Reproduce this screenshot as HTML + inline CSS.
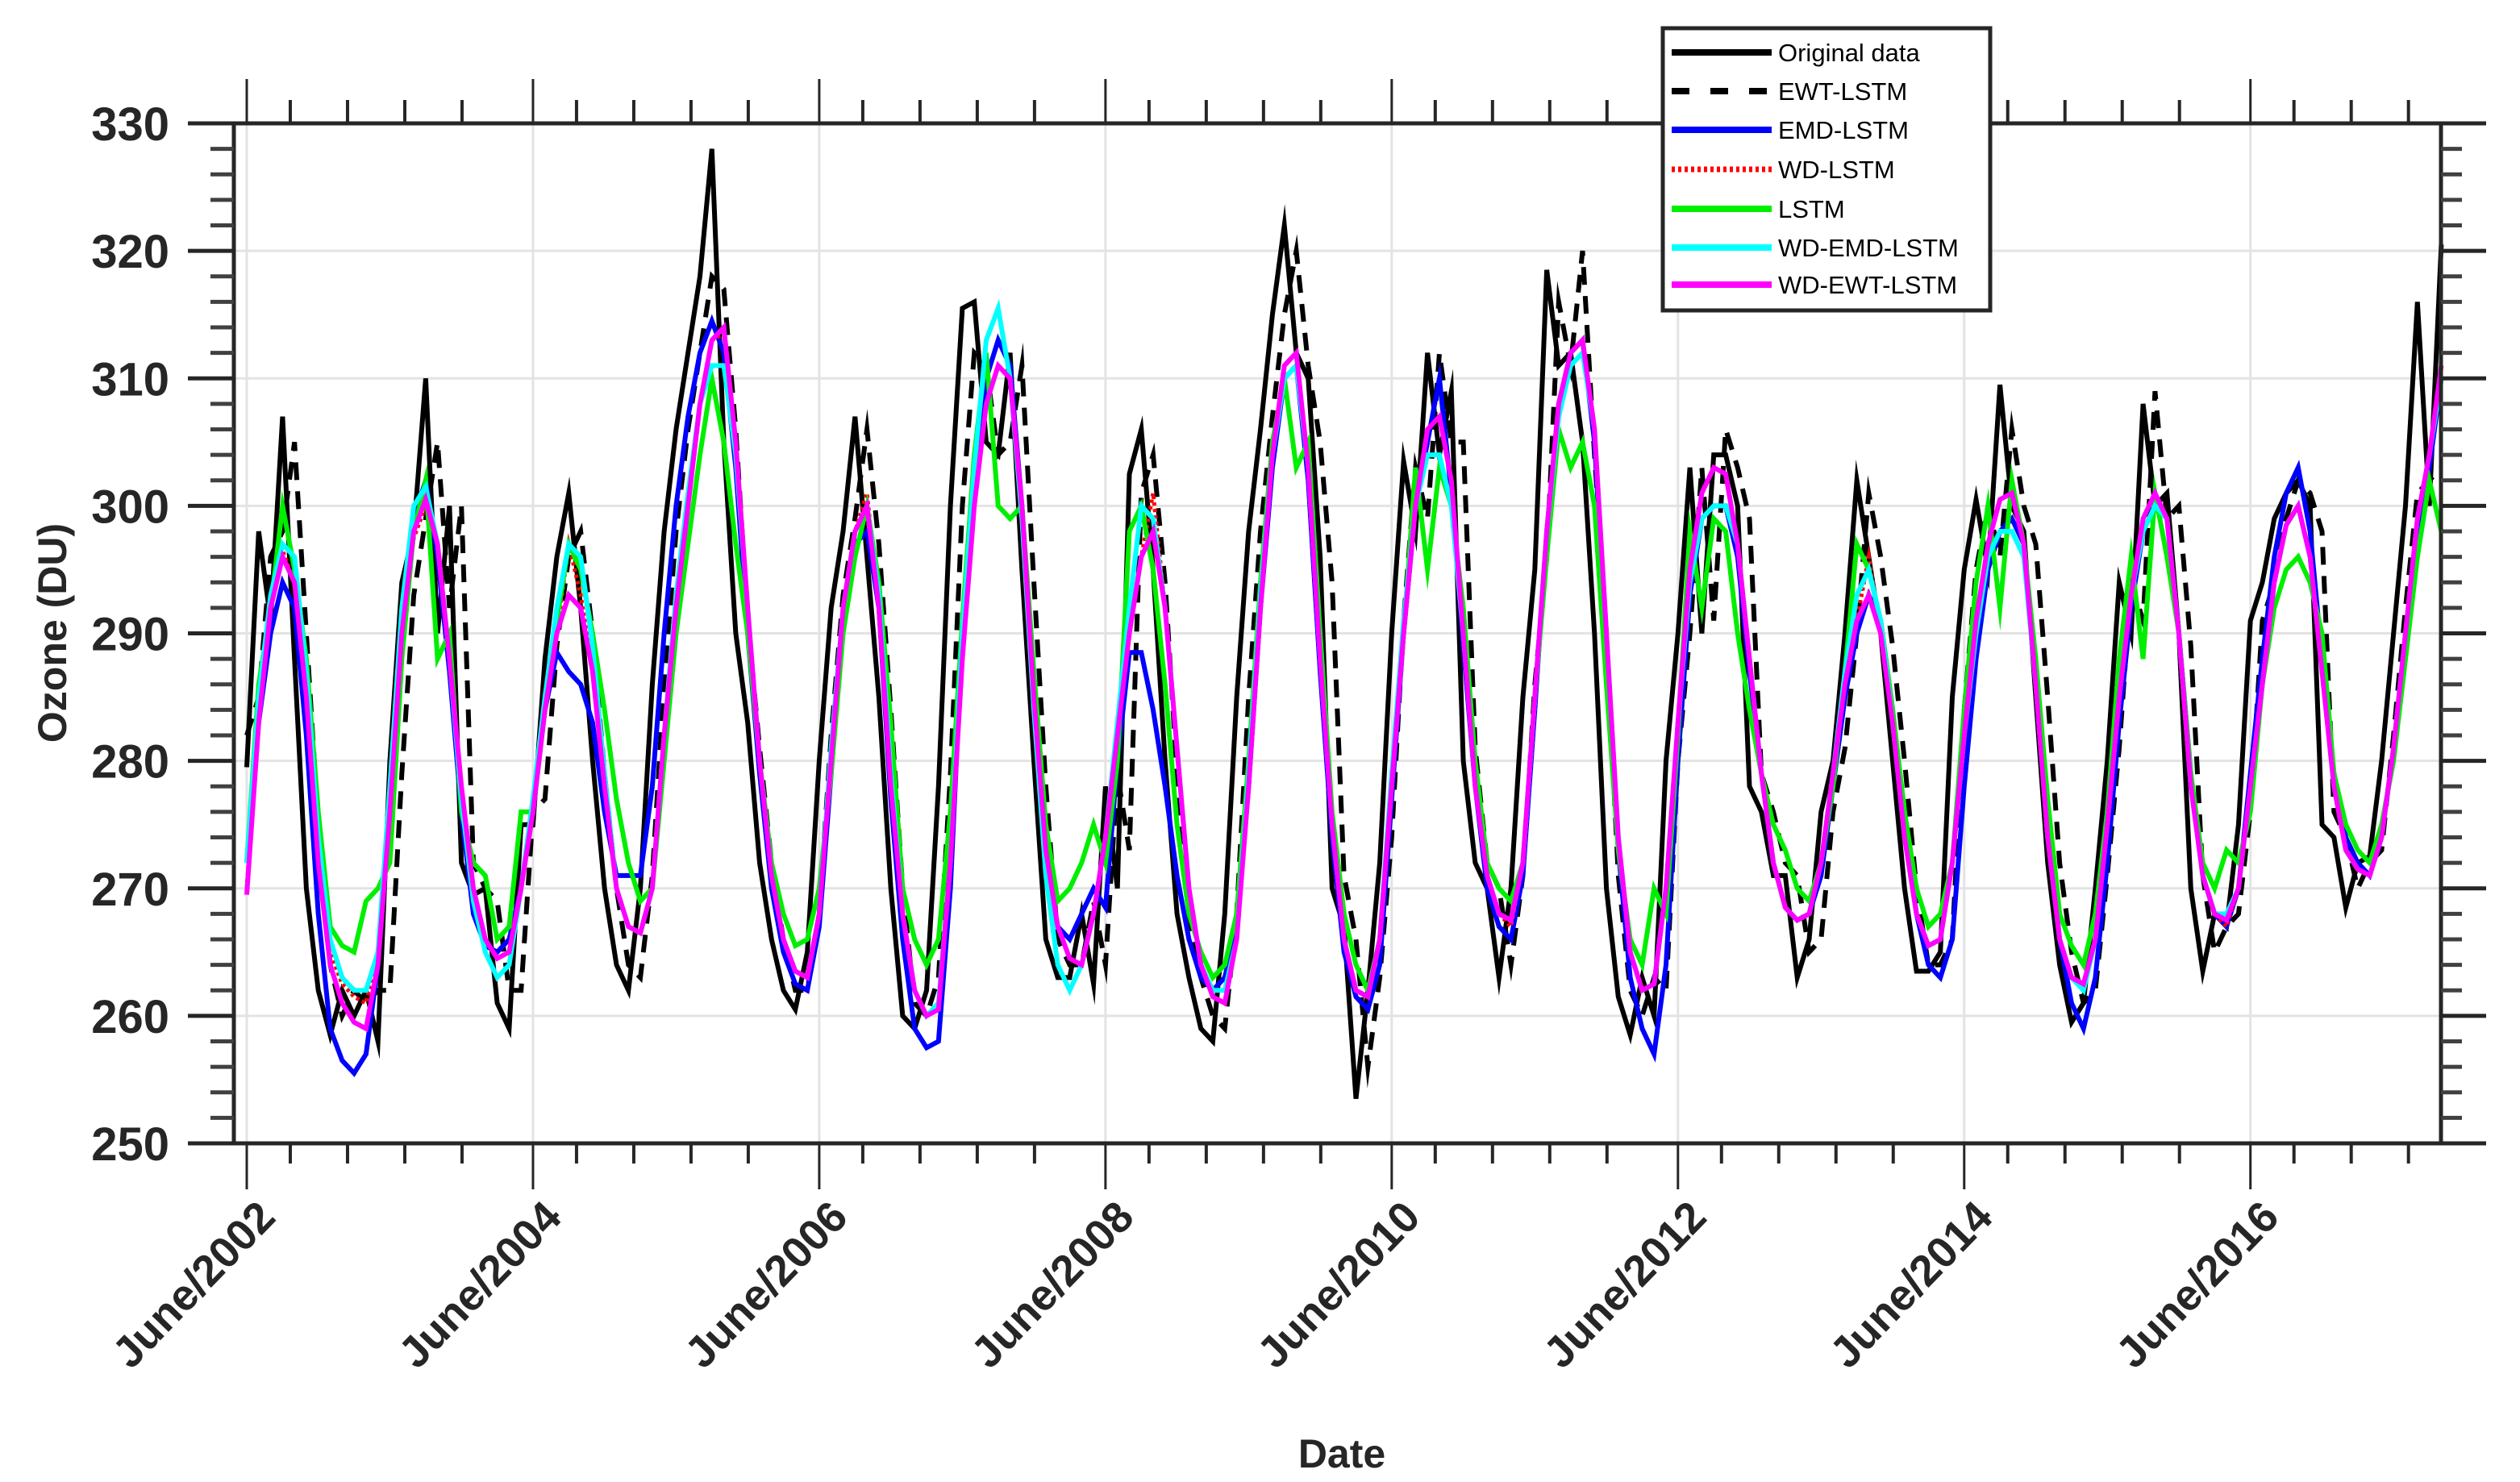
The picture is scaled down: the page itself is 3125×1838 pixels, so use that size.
<!DOCTYPE html>
<html><head><meta charset="utf-8"><style>
html,body{margin:0;padding:0;background:#fff;}
svg{display:block;font-family:"Liberation Sans",Arial,sans-serif;}
</style></head><body>
<svg id="chart" width="3125" height="1838" viewBox="0 0 3125 1838" xmlns="http://www.w3.org/2000/svg">
<g id="grid"></g>
<g id="series"></g>
<g id="axes"></g>
<text x="0" y="0" transform="translate(82,785) rotate(-90)" text-anchor="middle" font-size="50" font-weight="bold" fill="#262626">Ozone (DU)</text>
<text x="1664" y="1820" text-anchor="middle" font-size="50" font-weight="bold" fill="#262626">Date</text>
<g id="legend"></g>
</svg>
<script>
const yTicks=[250,260,270,280,290,300,310,320,330];
const xTickLabels=["June/2002","June/2004","June/2006","June/2008","June/2010","June/2012","June/2014","June/2016"];
const xTickMonths=[0,24,48,72,96,120,144,168];
const xMinorOffsets=[3.65,8.45,13.25,18.05];
const seriesNames=["Original data","EWT-LSTM","EMD-LSTM","WD-LSTM","LSTM","WD-EMD-LSTM","WD-EWT-LSTM"];
const original=[279.5,298,291,307,288,270,262,258.5,262,260,262,258,
280,294,298,310,290,300,272,269.5,270,261,259,275,
275,288,296,301,292,280,270,264,262,270,286,298,
306,312,318,328,305,290,283,272,266,262,260.5,265,
280,292,298,307,296,285,270,260,259,262,278,300,
315.5,316,305,304,312,295,280,266,263,263,268,262.5,
278,270,302.5,306,295,280,268,263,259,258,268,285,
298,306,315,322,312,310,296,270,267,253.5,262,272,
290,303.5,298,312,304,309,280,272,270,263,270,285,
295,318.5,311,312,305,290,270,261.5,258.5,263,260,280,
290,303,290,304,304,300,278,276,271,271,263,266,
276,280,290,302,296,290,280,270,263.5,263.5,265,285,
295,300.5,295,309.5,300,298,285,272,264,259.5,261,270,
280,294,290,308,300,301,290,270,263.5,268,267,275,
291,294,299,301,302,300,275,274,268.5,272,272.5,280,
290,300,316,300,320.5];
const ewtLstm=[282,285,296,298,305,290,275,264,260,262,261,262,
262,279,293,299,305,292,300,272,270,269,262,262,
276,277,289,296,298,290,279,270,264,263,271,286,
298,306,312,318,317,306,291,281,272,266,262,262,
268,282,293,299,306,297,284,270,261,260,263,279,
300,312,311,304,305,311,294,278,266,264,264,269,
264,279,273,301,304,294,279,268,263,260,259,268,
285,298,307,315,320,311,305,294,271,266,256,263,
274,291,303,299,312,305,305,281,272,270,264,271,
286,296,316,311,320,304,290,271,262,260,263,262,
280,290,303,291,306,303,299,279,276,272,271,265,
266,276,281,290,301,296,289,280,270,264,264,266,
284,295,300,296,306,300,297,285,272,265,261,262,
271,281,294,291,309,299,300,289,271,265,267,268,
276,291,294,299,302,301,298,276,274,270,272,273,
282,292,301,302,303];
const emdLstm=[272,283,290,294,292,282,268,259,256.5,255.5,257,264,
276,290,299,302,296,287,276,268,265.5,265,266,270,
277,284,288.5,287,286,283,276,271,271,271,278,290,
300,307,312,314.5,312,303,290,279,270,265,262.5,262,
267,279,291,297,298,292,277,266,259,257.5,258,270,
290,302,310,313,311,300,284,272,267,266,268,270,
268.5,280,288.5,288.5,284,278,271,266,263,262,263,267,
278,292,303,310,311,302,287,274,265,261.5,260.5,264,
277,290,300,305,310,301,289,278,270,267,266,271,
284,298,308,312,313,305,289,273,263,259,257,264,
280,293,299,300,300,296,287,279,272,268.5,267.5,268,
271,278,285,290,293,291,284,275,268,264,263,266,
278,288,295,298,299,297,287,275,266,261,259,263,
272,283,292,298,300,299,290,279,271,268,267,270,
279,288,296,301,303,298,288,279,274,272,271,274,
281,290,298,303,310];
const wdLstm=[270,284,292,296.5,294,285,272,265,262.5,261.5,261,265,
276,290,297.5,300,297,288,278,270,266,264.5,265,270,
276,284,290,297,293,287,278,270,267,266.5,270,282,
292,300,308,313,313.5,305,292,280,271,266,263.5,263,
268,280,292,298,301,292,278,268,262,260,260.5,272,
288,300,308,311,310,300,285,273,267,264.5,264,268,
274,282,290,296,301,292,281,270,264,261.5,261,266,
278,292,304,311,312,303,288,275,266,262,261.5,266,
278,290,300,306,307,302,290,278,271,268,267,272,
285,298,308,312,313,306,290,274,265,262,262.5,270,
283,295,301,303,302.5,297,288,279,272,268.5,267.5,268,
272,279,286,291,296,290,283,274,268,265.5,266,272,
282,291,297,300.5,301,297,286,274,266,263,262.5,266,
275,285,293,299,301,299,290,278,271,268,267,270,
278,286,294,298.5,300,296,287,278,273,271.5,271,274,
281,290,299,304,311];
const lstm=[272,286,292,300,295,288,276,267,265.5,265,269,270,
272,288,298,302,288,290,276,272,271,266,267,276,
276,284,291,297,295,290,284,277,272,269,270,280,
290,297,304,310,305,297,290,280,272,268,265.5,266,
270,279,290,296,300,294,283,270,266,264,266,276,
291,304,312,300,299,300,287,275,269,270,272,275,
272,280,298,300,295,286,275,268,265,263,264,268,
280,294,305,310,303,305,290,276,268,264,262,266,
278,290,303,295,303,300,292,280,272,270,269,272,
285,296,306,303,305,300,286,273,266,264,270,268,
282,298,292,299,298,290,284,279,275,273,270,269,
272,278,287,297,295,291,284,276,270,267,268,272,
284,294,300,292,302,297,288,277,268,265.5,264,268,
276,288,296,288,301,296,290,279,272,270,273,272,
276,286,292,295,296,294,290,279,275,273,272,275,
280,288,296,302,298];
const wdEmdLstm=[272,285,293,297,296,287,274,266,263,262,262,265,
278,292,300,301.5,297,288,277,269,265,263,264,270,
277,285,292,297,296,289,279,270,267,266.5,270,282,
293,301,308,311,311,304,292,280,271,266,263.5,263,
268,281,292,298,300,293,279,268,262,260,261,272,
290,303,313,315.5,310,299,284,271,264,262,264,268,
274,283,292,300,299,292,281,270,264,262,262,266,
279,293,304,310,311,303,288,275,266,262,261.5,266,
279,291,300,304,304,300,290,278,271,268,267.5,272,
285,298,307,311,312,306,290,274,265,262,262.5,270,
283,294,299,300,300,297,288,279,272,268.5,267.5,268,
272,279,287,293,295,291,283,274,268,265.5,266,272,
282,290,296,298,298,296,286,274,266,263,262,266,
275,285,293,298,300,299,290,278,271,268,268,270,
278,286,294,298.5,300,296,287,278,273,271.5,271,274,
281,290,299,304,310];
const wdEwtLstm=[269.5,283,292,296,294,285,272,264,261,259.5,259,264,
276,290,298,300.5,297,288,278,270,266,264.5,265,270,
276,284,290,293,292,287,278,270,267,266.5,270,282,
292,300,308,313,314,305,292,280,271,266,263.5,263,
268,280,292,298,300,292,278,268,262,260,260.5,272,
288,300,308,311,310,300,285,273,267,264.5,264,268,
274,282,290,296,298,292,281,270,264,261.5,261,266,
278,292,304,311,312,303,288,275,266,262,261.5,266,
278,290,300,306,307,302,290,278,271,268,267.5,272,
285,298,308,312,313,306,290,274,265,262,262.5,270,
283,295,301,303,302.5,297,288,279,272,268.5,267.5,268,
272,279,286,291,293,290,283,274,268,265.5,266,272,
282,291,297,300.5,301,297,286,274,266,263,262.5,266,
275,285,293,299,301,299,290,278,271,268,267.5,270,
278,286,294,298.5,300,296,287,278,273,271.5,271,274,
281,290,299,304,311];

const NS="http://www.w3.org/2000/svg";
const X0=306, PXM=14.79, YTOP=153, YBOT=1418, LEFT=290, RIGHT=3027;
const yMin=250, yMax=330;
function xs(m){return X0+m*PXM;}
function ys(v){return YBOT-(v-yMin)*(YBOT-YTOP)/(yMax-yMin);}
function mk(tag,attrs,parent){const e=document.createElementNS(NS,tag);for(const k in attrs)e.setAttribute(k,attrs[k]);parent.appendChild(e);return e;}

const grid=document.getElementById('grid'), axes=document.getElementById('axes'), ser=document.getElementById('series'), leg=document.getElementById('legend');

// gridlines
yTicks.forEach(v=>{
  if(v===yMin||v===yMax)return;
  const l=mk('line',{x1:LEFT,x2:RIGHT,y1:ys(v),y2:ys(v),stroke:'#e3e3e3','stroke-width':3},grid);
  
  
});
xTickMonths.forEach(m=>{
  const l=mk('line',{x1:xs(m),x2:xs(m),y1:YTOP,y2:YBOT,stroke:'#e3e3e3','stroke-width':3},grid);
  
  
});

// series
const styles=[
 {c:'#000000',w:6,d:null},
 {c:'#000000',w:6,d:'22 14'},
 {c:'#0000ff',w:6,d:null},
 {c:'#ff0000',w:5,d:'4 4'},
 {c:'#00ee00',w:6,d:null},
 {c:'#00ffff',w:6,d:null},
 {c:'#ff00ff',w:6,d:null}];
const allSeries=[original,ewtLstm,emdLstm,wdLstm,lstm,wdEmdLstm,wdEwtLstm];
const seriesKeys=['original-data-line','ewt-lstm-line','emd-lstm-line','wd-lstm-line','lstm-line','wd-emd-lstm-line','wd-ewt-lstm-line'];
allSeries.forEach((arr,i)=>{
  const pts=arr.map((v,m)=>xs(m).toFixed(1)+','+ys(v).toFixed(1)).join(' ');
  const p=mk('polyline',{points:pts,fill:'none',stroke:styles[i].c,'stroke-width':styles[i].w,'stroke-linejoin':'miter','stroke-miterlimit':10},ser);
  if(styles[i].d)p.setAttribute('stroke-dasharray',styles[i].d);
  
  
});

// axes box
const AX='#262626';
[[233,YTOP,3083,YTOP],[233,YBOT,3083,YBOT],[LEFT,YTOP,LEFT,YBOT],[RIGHT,YTOP,RIGHT,YBOT]].forEach(a=>{
  const l=mk('line',{x1:a[0],y1:a[1],x2:a[2],y2:a[3],stroke:AX,'stroke-width':5},axes);
  
  
});
// y ticks
yTicks.forEach(v=>{
  const y=ys(v);
  mk('line',{x1:233,x2:LEFT,y1:y,y2:y,stroke:AX,'stroke-width':5},axes);
  mk('line',{x1:RIGHT,x2:3083,y1:y,y2:y,stroke:AX,'stroke-width':5},axes);
  const t=mk('text',{x:210,y:y+21,'text-anchor':'end','font-size':58,'font-weight':'bold',fill:AX},axes);
  t.textContent=v;
  
  
  if(v<yMax){for(let k=2;k<10;k+=2){const yy=ys(v+k);
    mk('line',{x1:261,x2:LEFT,y1:yy,y2:yy,stroke:'#404040','stroke-width':5},axes);
    mk('line',{x1:RIGHT,x2:3053,y1:yy,y2:yy,stroke:'#404040','stroke-width':5},axes);}}
});
// x ticks
xTickMonths.forEach((m,i)=>{
  const x=xs(m);
  mk('line',{x1:x,x2:x,y1:YBOT,y2:1475,stroke:AX,'stroke-width':3},axes);
  mk('line',{x1:x,x2:x,y1:YTOP,y2:98,stroke:AX,'stroke-width':3},axes);
  xMinorOffsets.forEach(o=>{const xm=xs(m+o); if(xm<RIGHT-5){
    mk('line',{x1:xm,x2:xm,y1:YBOT,y2:1443,stroke:AX,'stroke-width':4},axes);
    mk('line',{x1:xm,x2:xm,y1:YTOP,y2:124,stroke:AX,'stroke-width':4},axes);}});
  const t=mk('text',{x:0,y:0,transform:'translate('+(x+38)+',1512) rotate(-46)','text-anchor':'end','font-size':54,'font-weight':'bold',fill:AX},axes);
  t.textContent=xTickLabels[i];
  
  
});

// legend
const lb=mk('rect',{x:2062,y:35,width:406,height:350,fill:'#fff',stroke:'#262626','stroke-width':5},leg);


const legY=[65,113,161,210,259,307,353];
seriesNames.forEach((n,i)=>{
  const y=legY[i];
  const l=mk('line',{x1:2073,x2:2197,y1:y,y2:y,stroke:styles[i].c,'stroke-width':styles[i].w+2},leg);
  if(i===1)l.setAttribute('stroke-dasharray','22 26');
  if(i===3)l.setAttribute('stroke-dasharray','4 4');
  
  
  const t=mk('text',{x:2205,y:y+11,'font-size':31,fill:'#000'},leg);
  t.textContent=n;
  
  
});
</script>
</body></html>
